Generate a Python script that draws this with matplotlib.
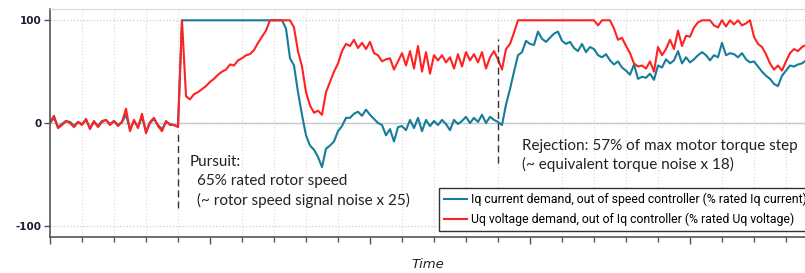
import numpy as np
import matplotlib.pyplot as plt
from matplotlib.ticker import MultipleLocator

plt.rcParams['axes.unicode_minus'] = False

# sample step along the time axis (1 unit = one major tick)
dt = 0.025

# Iq current demand (% rated Iq current)
iq = [0, 5, -4, -1, 2, 1, -3, 1, -1, 3, -5, 1, -3, 2, 3, -1, 2, -2, 1, 8,
      -6, 2, -4, 6, -8, 0, 4, -2, -6, 1, -1, -2, -3, 100, 100, 100, 100, 100, 100, 100,
      100, 100, 100, 100, 100, 100, 100, 100, 100, 100, 100, 100, 100, 100, 100, 100, 100, 100, 100, 92,
      63, 56, 30, 8, -12, -22, -26, -33, -43, -25, -22, -18, -8, -3, 5, 5, 9, 11, 7, 13,
      8, 4, 0, -2, -12, -6, -18, -4, -3, -7, 3, -5, 5, -8, 3, -3, 2, -2, 3, -1,
      -7, 3, -1, 2, 6, 0, 5, 1, 8, 0, 6, 3, 1, -2, 18, 33, 50, 66, 69, 80,
      77, 76, 89, 82, 79, 83, 87, 89, 80, 77, 79, 73, 70, 77, 69, 74, 72, 66, 64, 67,
      61, 57, 60, 54, 51, 47, 57, 43, 45, 44, 48, 42, 56, 54, 62, 58, 61, 70, 58, 64,
      59, 62, 66, 69, 66, 61, 66, 64, 78, 66, 68, 67, 64, 68, 62, 59, 60, 55, 50, 46,
      43, 38, 36, 46, 51, 56, 55, 57, 58, 61]

# Uq voltage demand (% rated Uq voltage)
uq = [1, 7, -5, -2, 2, 0, -4, 1, -2, 4, -6, 2, -4, 1, 3, -2, 2, -3, 1, 14,
      -8, 3, -5, 9, -10, 1, 5, -3, -8, 2, -2, -2, -4, 100, 26, 23, 28, 30, 33, 36,
      40, 43, 47, 50, 52, 57, 56, 61, 63, 66, 67, 71, 78, 84, 90, 100, 100, 100, 100, 100,
      100, 93, 70, 55, 30, 17, 10, 12, 8, 30, 40, 50, 58, 70, 77, 75, 81, 73, 78, 72,
      79, 68, 66, 60, 62, 63, 52, 60, 68, 56, 70, 53, 75, 50, 69, 48, 66, 61, 66, 59,
      64, 53, 67, 55, 69, 61, 67, 59, 69, 53, 64, 70, 62, 52, 72, 77, 88, 100, 100, 100,
      100, 100, 100, 100, 100, 100, 100, 100, 100, 100, 100, 100, 100, 100, 100, 100, 100, 95, 100, 100,
      100, 92, 81, 83, 75, 68, 58, 55, 56, 53, 60, 50, 74, 66, 72, 81, 72, 90, 75, 85,
      84, 93, 98, 100, 100, 100, 95, 93, 100, 94, 100, 96, 100, 95, 97, 100, 84, 77, 74, 67,
      58, 52, 56, 51, 60, 68, 72, 70, 74, 76]

t = np.arange(len(iq)) * dt

# event markers: (time, y bottom, y top)
pursuit_mark = (0.8, -83, -10)
rejection_mark = (2.8, -39, 82)

blue = '#157d9c'
red = '#ff2222'

fig = plt.figure(figsize=(8.05, 2.73), dpi=100)
ax = fig.add_axes([50/805, 36/273, 780/805, 228/273])

ax.plot(t, iq, color=blue, lw=1.5, label='Iq current demand, out of speed controller (% rated Iq current)')
ax.plot(t, uq, color=red, lw=1.5, label='Uq voltage demand, out of Iq controller (% rated Uq voltage)')

for x, y0, y1 in (pursuit_mark, rejection_mark):
    ax.plot([x, x], [y0, y1], color='#333333', lw=1, dashes=(5, 3))

ax.set_xlim(0, 4.875)
ax.set_ylim(-111, 111)

ax.xaxis.set_major_locator(MultipleLocator(1))
ax.xaxis.set_minor_locator(MultipleLocator(0.2))
ax.set_yticks([-100, 0, 100])
ax.set_xticklabels([])
ax.tick_params(axis='x', which='major', length=5, width=1, color='#555555', direction='out')
ax.tick_params(axis='x', which='minor', length=3.5, width=1, color='#555555', direction='out')
ax.tick_params(axis='y', length=4, width=1, color='#555555', pad=2)
for lab in ax.get_yticklabels():
    lab.set_fontweight('bold')
    lab.set_fontsize(7.5)
    lab.set_color('#1c1c30')

ax.grid(axis='x', which='minor', color='#dddddd', ls=':', lw=0.9)
ax.grid(axis='y', which='major', color='#cccccc', ls=':', lw=0.9)
ax.axhline(0, color='#c8c8c8', lw=1, zorder=0)

ax.spines['left'].set_color('#555555')
ax.spines['left'].set_linewidth(1.2)
ax.spines['bottom'].set_color('#555555')
ax.spines['bottom'].set_linewidth(1.2)
ax.spines['top'].set_color('#d8d8d8')
ax.spines['right'].set_visible(False)

tf = dict(family=['Lato', 'DejaVu Sans'], fontsize=11, color='#222222', va='center')
ax.text(0.875, -37.5, 'Pursuit:', **tf)
ax.text(0.919, -56.5, '65% rated rotor speed', **tf)
ax.text(0.919, -75.5, '(~ rotor speed signal noise x 25)', **tf)
ax.text(2.95, -22, 'Rejection: 57% of max motor torque step', **tf)
ax.text(2.95, -40, '(~ equivalent torque noise x 18)', **tf)

leg = ax.legend(loc='upper left', bbox_to_anchor=(439/805, 1 - 188/273), bbox_transform=fig.transFigure,
                prop=dict(family=['Roboto', 'DejaVu Sans'], size=8.8),
                fancybox=False, framealpha=1, edgecolor='#333333', handlelength=1.9,
                handletextpad=0.3, borderpad=0.4, labelspacing=0.5, borderaxespad=0)
leg.get_frame().set_linewidth(1)
for line in leg.get_lines():
    line.set_linewidth(1.5)

fig.text(428/805, 1 - 265/273, 'Time', style='italic', fontsize=9.5, ha='center', va='center', color='#222222')

fig.savefig('out.png', dpi=100)
